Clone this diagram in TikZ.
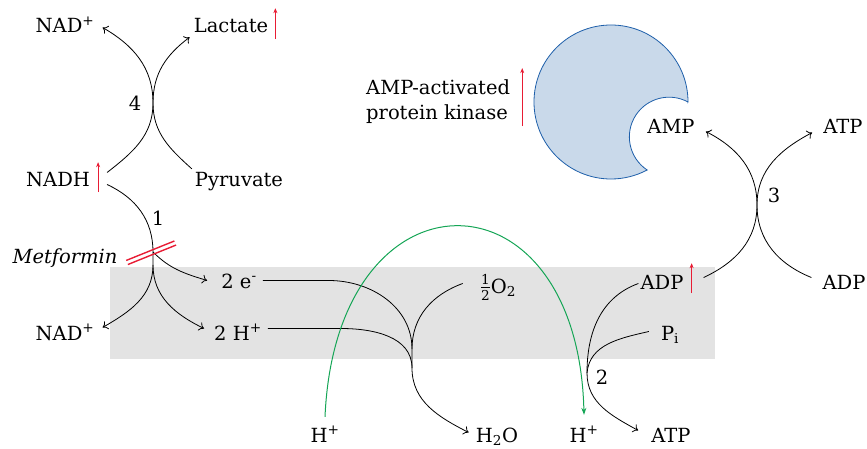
\documentclass[tikz,border=0pt]{standalone}
\usepackage{amsmath}
\usepackage{fontspec}
\setmainfont{DejaVu Serif}
\usepackage{xcolor}
\usepackage{tikz}
\usetikzlibrary{arrows.meta, calc}

\definecolor{membrane}{RGB}{227,227,227}
\definecolor{kinfill}{RGB}{201,217,234}
\definecolor{kinline}{RGB}{30,95,170}
\definecolor{upred}{RGB}{232,28,52}
\definecolor{protgreen}{RGB}{20,165,85}

\begin{document}
\begin{tikzpicture}[x=1pt, y=1pt, font=\fontsize{19.5}{25}\selectfont,
  >={To[length=5pt,width=9pt]},
  chem/.style={anchor=base, inner sep=2pt, text height=15pt, text depth=4pt},
  num/.style={inner sep=0pt},
  flow/.style={line width=0.8pt},
  rise/.style={upred, line width=0.9pt, -{Stealth[length=5pt,width=4pt]}},
  inhib/.style={upred, line width=1.4pt},
  proton/.style={protgreen, line width=1pt, -{Stealth[length=7pt,width=5pt]}}]
\useasboundingbox (0,0) rectangle (867,448);

% Membrane
\fill[membrane] (110,89) rectangle (715,181);

% AMP-activated protein kinase
\filldraw[fill=kinfill, draw=kinline, line width=0.8pt] (688,346)
  arc[start angle=0, end angle=298, radius=77]
  arc[start angle=236.5, end angle=61.5, radius=39.7] -- cycle;

% Metabolites
\node[chem] (nad1) at (65,415) {NAD\textsuperscript{+}};
\node[chem] (lac) at (231,415) {Lactate};
\node[chem] (nadh) at (58,262) {NADH};
\node[chem] (pyr) at (239,262) {Pyruvate};
\node[chem] (met) at (65,185) {\textit{Metformin}};
\node[chem] (nad2) at (65,108) {NAD\textsuperscript{+}};
\node[chem] (ele) at (239,160) {2 e\textsuperscript{-}};
\node[chem] (hyd) at (238,108) {2 H\textsuperscript{+}};
\node[chem] (oxy) at (498,155) {$\frac{\text{1}}{\text{2}}$O\textsubscript{2}};
\node[chem] (hin) at (325,6) {H\textsuperscript{+}};
\node[chem] (water) at (497,6) {H\textsubscript{2}O};
\node[chem] (hout) at (584,6) {H\textsuperscript{+}};
\node[chem] (atp1) at (671,6) {ATP};
\node[chem] (adp1) at (662,159) {ADP};
\node[chem] (pi) at (670,108) {P\textsubscript{i}};
\node[chem] (adp2) at (844,159) {ADP};
\node[chem] (amp) at (671,314) {AMP};
\node[chem] (atp2) at (843,314) {ATP};
\node[align=left, anchor=west, inner sep=2pt] (kin) at (364,346) {AMP-activated\\protein kinase};

% Reaction numbers
\node[num] (r4) at (135,345) {4};
\node[num] (r1) at (158,230) {1};
\node[num] (r2) at (602,71) {2};
\node[num] (r3) at (774,253) {3};

\coordinate (c4) at (153,345);
\coordinate (j1) at (153,196);
\coordinate (split) at (153,183);
\coordinate (j3) at (412,99);
\coordinate (j4) at (412,80);
\coordinate (j5) at (587,75);
\coordinate (c3) at (757,243);

% Lactate dehydrogenase
\draw[flow,->] ([shift={(15,8)}]nadh.east) to[out=38,in=-90] (c4) to[out=90,in=-30] ([xshift=6]nad1.east);
\draw[flow,->] ([xshift=-1]pyr.north west) to[out=138,in=-90] (c4) to[out=90,in=-143] ([shift={(-2,2)}]lac.south west);

% Complex I
\draw[flow] ([shift={(15,-4)}]nadh.east) to[out=-25,in=90] (j1) -- (split);
\draw[flow,->] (split) to[out=-90,in=30] ([shift={(6,7)}]nad2.east);
\draw[flow,->] (split) to[out=-90,in=154] ([shift={(-8,6)}]hyd.west);
\draw[flow,->] (j1) to[out=-45,in=163] ([shift={(-12,2)}]ele.west);
\foreach \d in {-2.2,2.2}
  \draw[inhib, shift={(j1)}, rotate=22] (-28,\d) -- (24,\d);

% Electron transport
\draw[flow] ([shift={(4,2)}]ele.east) -- ++(66,0) to[out=0,in=90] (j3) -- (j4);
\draw[flow] ([shift={(-15,4)}]oxy.west) to[out=200,in=90] (j3);
\draw[flow] ([shift={(4,6)}]hyd.east) -- ++(73,0) to[out=0,in=90] (j4);
\draw[flow,->] (j4) to[out=-90,in=153] ([shift={(-5,4)}]water.west);
\draw[proton] ([yshift=8]hin.north) .. controls (336,285) and (578,285) .. ([yshift=10]hout.north);

% ATP synthase
\draw[flow] (adp1.west) to[out=200,in=90] (j5);
\draw[flow] ([shift={(-10,3)}]pi.west) to[out=193,in=85] (j5);
\draw[flow,->] (j5) to[out=-90,in=151] ([shift={(-11,6)}]atp1.west);

% Adenylate kinase
\draw[flow,->] ([shift={(18,6)}]adp1.east) to[out=25,in=-90] (c3) to[out=90,in=-27] ([shift={(9,-3)}]amp.east);
\draw[flow,->] ([shift={(-9,6)}]adp2.west) to[out=158,in=-90] (c3) to[out=90,in=-152] ([shift={(-9,-4)}]atp2.west);

% Increases
\draw[rise] ([xshift=5]lac.south east) -- ++(0,31);
\draw[rise] ([xshift=6]nadh.south east) -- ++(0,30);
\draw[rise] ([shift={(6,2)}]adp1.south east) -- ++(0,30);
\draw[rise] ([xshift=10]kin.south east) -- ++(0,58);
\end{tikzpicture}
\end{document}
